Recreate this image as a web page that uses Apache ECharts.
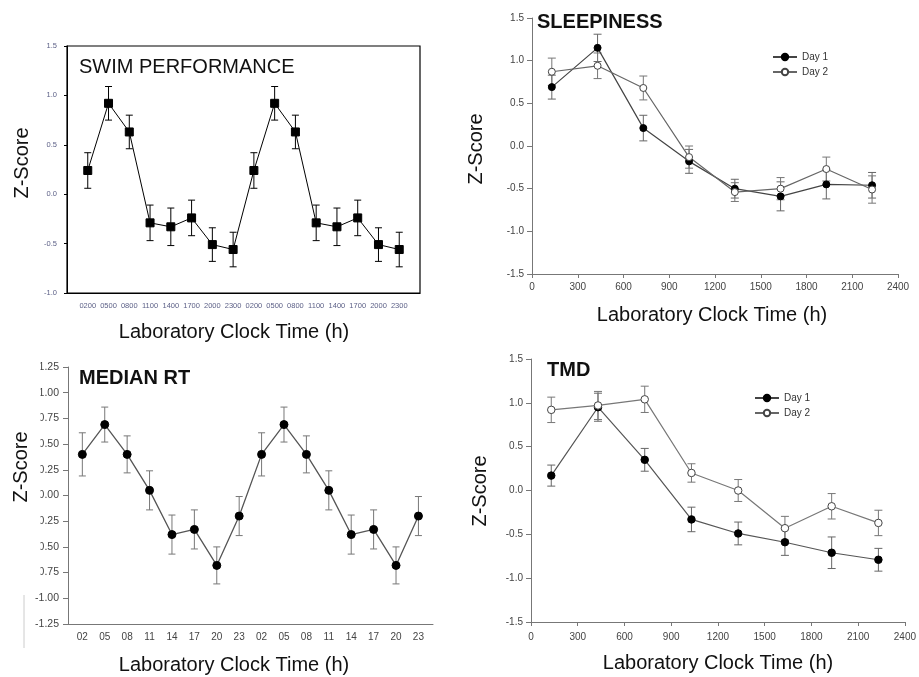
<!DOCTYPE html>
<html>
<head>
<meta charset="utf-8">
<title>Z-Score by laboratory clock time</title>
<script src="https://cdn.jsdelivr.net/npm/echarts@6/dist/echarts.min.js"></script>
<style>
    html, body { margin: 0; padding: 0; background: #fff; }
    #chart { width: 919px; height: 677px; }
</style>
</head>
<body>
<div id="chart"></div>
<script>
// ==============================================================
// data
// ==============================================================
var swimLabels = ['0200', '0500', '0800', '1100', '1400', '1700', '2000', '2300',
                  '0200', '0500', '0800', '1100', '1400', '1700', '2000', '2300'];
var swimMean = [0.24, 0.92, 0.63, -0.29, -0.33, -0.24, -0.51, -0.56,
                0.24, 0.92, 0.63, -0.29, -0.33, -0.24, -0.51, -0.56];
var swimErr = [0.18, 0.17, 0.17, 0.18, 0.19, 0.18, 0.17, 0.175,
               0.18, 0.17, 0.17, 0.18, 0.19, 0.18, 0.17, 0.175];

var clockTimes = [130, 430, 730, 1030, 1330, 1630, 1930, 2230];
var sleepDay1 = [0.69, 1.15, 0.21, -0.18, -0.50, -0.59, -0.45, -0.46];
var sleepDay1Err = [0.14, 0.16, 0.15, 0.14, 0.11, 0.17, 0.17, 0.15];
var sleepDay2 = [0.87, 0.94, 0.68, -0.13, -0.54, -0.50, -0.27, -0.51];
var sleepDay2Err = [0.16, 0.15, 0.14, 0.13, 0.11, 0.13, 0.14, 0.16];

var rtLabels = ['02', '05', '08', '11', '14', '17', '20', '23',
                '02', '05', '08', '11', '14', '17', '20', '23'];
var rtMean = [0.40, 0.69, 0.40, 0.05, -0.38, -0.33, -0.68, -0.20,
              0.40, 0.69, 0.40, 0.05, -0.38, -0.33, -0.68, -0.20];
var rtErr = [0.21, 0.17, 0.18, 0.19, 0.19, 0.19, 0.18, 0.19,
             0.21, 0.17, 0.18, 0.19, 0.19, 0.19, 0.18, 0.19];

var tmdDay1 = [0.17, 0.95, 0.35, -0.33, -0.49, -0.59, -0.71, -0.79];
var tmdDay1Err = [0.12, 0.16, 0.13, 0.14, 0.13, 0.15, 0.18, 0.13];
var tmdDay2 = [0.92, 0.97, 1.04, 0.20, 0.00, -0.43, -0.18, -0.37];
var tmdDay2Err = [0.145, 0.16, 0.15, 0.105, 0.125, 0.135, 0.145, 0.145];

var FONT = 'Liberation Sans, Arial, sans-serif';

// ==============================================================
// helpers
// ==============================================================
function indexes(arr) {
    return arr.map(function (d, i) { return i; });
}
function points(xs, ys) {
    return ys.map(function (y, i) { return [xs[i], y]; });
}
function bars(xs, ys, es) {
    return ys.map(function (y, i) { return [xs[i], y, es[i]]; });
}
// vertical error bar with caps, drawn through the axes
function errorBar(color, cap) {
    return function (params, api) {
        var x = api.value(0), y = api.value(1), e = api.value(2);
        var hi = api.coord([x, y + e]);
        var lo = api.coord([x, y - e]);
        var st = { stroke: color, lineWidth: 1 };
        return {
            type: 'group',
            children: [
                { type: 'line', shape: { x1: hi[0], y1: hi[1], x2: lo[0], y2: lo[1] }, style: st },
                { type: 'line', shape: { x1: hi[0] - cap, y1: hi[1], x2: hi[0] + cap, y2: hi[1] }, style: st },
                { type: 'line', shape: { x1: lo[0] - cap, y1: lo[1], x2: lo[0] + cap, y2: lo[1] }, style: st }
            ]
        };
    };
}
function errSeries(idx, data, color, cap) {
    return {
        type: 'custom', xAxisIndex: idx, yAxisIndex: idx, z: 1,
        renderItem: errorBar(color, cap), encode: { x: 0, y: [1] }, data: data, silent: true
    };
}
function plainAxis(idx, color, tickLen, labelColor, fontSize, margin) {
    return {
        gridIndex: idx, type: 'value',
        axisLine: { show: true, onZero: false, lineStyle: { color: color, width: 1 } },
        axisTick: { show: tickLen > 0, length: tickLen, lineStyle: { color: color } },
        splitLine: { show: false },
        axisLabel: {
            color: labelColor, fontSize: fontSize, fontFamily: FONT, margin: margin,
            formatter: function (v) { return String(v); }
        }
    };
}
function txt(x, y, text, size, weight, rotate, align) {
    return {
        type: 'text', x: x, y: y, z: 60, rotation: rotate ? Math.PI / 2 : 0,
        style: {
            text: text, fill: '#111', fontSize: size, fontWeight: weight, fontFamily: FONT,
            align: align || 'center', verticalAlign: 'middle'
        }
    };
}

var swimIdx = indexes(swimLabels);
var rtIdx = indexes(rtLabels);

// ==============================================================
// axes
// ==============================================================
var xSwim = plainAxis(0, '#000', 0, '#5b5f86', 7.5, 9);
xSwim.min = -1; xSwim.max = 16;
xSwim.axisLabel.customValues = swimIdx;
xSwim.axisLabel.formatter = function (v) { return swimLabels[Math.round(v)]; };

var xSleep = plainAxis(1, '#777', 4, '#444', 10, 8);
xSleep.min = 0; xSleep.max = 2400; xSleep.interval = 300;

var xRt = plainAxis(2, '#777', 0, '#444', 10, 8);
xRt.min = -0.64; xRt.max = 15.65;
xRt.axisLabel.customValues = rtIdx;
xRt.axisLabel.formatter = function (v) { return rtLabels[Math.round(v)]; };

var xTmd = plainAxis(3, '#777', 4, '#444', 10, 10);
xTmd.min = 0; xTmd.max = 2400; xTmd.interval = 300;

var ySwim = plainAxis(0, '#000', 3, '#5b5f86', 7.5, 10);
ySwim.min = -1; ySwim.max = 1.5; ySwim.interval = 0.5;
ySwim.axisLabel.formatter = function (v) { return v.toFixed(1); };

var ySleep = plainAxis(1, '#777', 5, '#444', 10, 8);
ySleep.min = -1.5; ySleep.max = 1.5; ySleep.interval = 0.5;
ySleep.axisLabel.formatter = function (v) { return v.toFixed(1); };

var yRt = plainAxis(2, '#777', 5, '#444', 10.5, 9);
yRt.min = -1.25; yRt.max = 1.25; yRt.interval = 0.25;
yRt.axisLabel.formatter = function (v) { return v.toFixed(2); };

var yTmd = plainAxis(3, '#777', 5, '#444', 10, 8);
yTmd.min = -1.5; yTmd.max = 1.5; yTmd.interval = 0.5;
yTmd.axisLabel.formatter = function (v) { return v.toFixed(1); };

var filled = { color: '#000', borderColor: '#000', borderWidth: 1 };
var open = { color: '#fff', borderColor: '#444', borderWidth: 1 };

var option = {
    animation: false,
    backgroundColor: '#fff',
    textStyle: { fontFamily: FONT },
    grid: [
        { left: 67, top: 46, width: 353, height: 247, show: true, borderColor: '#000', borderWidth: 1.2 },
        { left: 532, top: 18, width: 366, height: 256 },
        { left: 68, top: 367, width: 365, height: 257 },
        { left: 531, top: 359, width: 375, height: 263 }
    ],
    xAxis: [xSwim, xSleep, xRt, xTmd],
    yAxis: [ySwim, ySleep, yRt, yTmd],
    legend: [
        {
            left: 767, top: 47, orient: 'vertical', itemWidth: 24, itemHeight: 8, itemGap: 5,
            data: ['Day 1', 'Day 2'], textStyle: { fontSize: 10, color: '#333', fontFamily: FONT }
        },
        {
            left: 749, top: 388, orient: 'vertical', itemWidth: 24, itemHeight: 8, itemGap: 5,
            data: ['Day 1', 'Day 2'], textStyle: { fontSize: 10, color: '#333', fontFamily: FONT }
        }
    ],
    series: [
        // swim performance
        errSeries(0, bars(swimIdx, swimMean, swimErr), '#000', 3.5),
        {
            name: 'Swim', type: 'line', xAxisIndex: 0, yAxisIndex: 0, z: 3,
            data: points(swimIdx, swimMean), symbol: 'rect', symbolSize: 8,
            itemStyle: filled, lineStyle: { color: '#000', width: 1 }
        },
        // sleepiness
        errSeries(1, bars(clockTimes, sleepDay1, sleepDay1Err), '#666', 4),
        errSeries(1, bars(clockTimes, sleepDay2, sleepDay2Err), '#777', 4),
        {
            name: 'Day 1', type: 'line', xAxisIndex: 1, yAxisIndex: 1, z: 3,
            data: points(clockTimes, sleepDay1), symbol: 'circle', symbolSize: 7,
            itemStyle: filled, lineStyle: { color: '#444', width: 1.2 }
        },
        {
            name: 'Day 2', type: 'line', xAxisIndex: 1, yAxisIndex: 1, z: 3,
            data: points(clockTimes, sleepDay2), symbol: 'circle', symbolSize: 7,
            itemStyle: open, lineStyle: { color: '#666', width: 1.2 }
        },
        // median RT
        errSeries(2, bars(rtIdx, rtMean, rtErr), '#777', 3.5),
        {
            name: 'RT', type: 'line', xAxisIndex: 2, yAxisIndex: 2, z: 3,
            data: points(rtIdx, rtMean), symbol: 'circle', symbolSize: 8,
            itemStyle: filled, lineStyle: { color: '#555', width: 1.3 }
        },
        // TMD
        errSeries(3, bars(clockTimes, tmdDay1, tmdDay1Err), '#666', 4),
        errSeries(3, bars(clockTimes, tmdDay2, tmdDay2Err), '#777', 4),
        {
            name: 'Day 1', type: 'line', xAxisIndex: 3, yAxisIndex: 3, z: 3,
            data: points(clockTimes, tmdDay1), symbol: 'circle', symbolSize: 7.5,
            itemStyle: filled, lineStyle: { color: '#555', width: 1.2 }
        },
        {
            name: 'Day 2', type: 'line', xAxisIndex: 3, yAxisIndex: 3, z: 3,
            data: points(clockTimes, tmdDay2), symbol: 'circle', symbolSize: 7.5,
            itemStyle: open, lineStyle: { color: '#777', width: 1.2 }
        }
    ],
    graphic: {
        elements: [
            // the left edge of the median RT tick labels is cut off in the original
            { type: 'rect', z: 50, shape: { x: 0, y: 355, width: 40.5, height: 233 }, style: { fill: '#fff' } },
            { type: 'line', z: 50, shape: { x1: 24, y1: 595, x2: 24, y2: 648 }, style: { stroke: '#ccc', lineWidth: 1 } },

            txt(79, 67, 'SWIM PERFORMANCE', 20, 'normal', false, 'left'),
            txt(537, 22, 'SLEEPINESS', 20, 'bold', false, 'left'),
            txt(79, 378, 'MEDIAN RT', 20, 'bold', false, 'left'),
            txt(547, 370, 'TMD', 20, 'bold', false, 'left'),

            txt(22, 163, 'Z-Score', 20, 'normal', true),
            txt(476, 149, 'Z-Score', 20, 'normal', true),
            txt(21, 467, 'Z-Score', 20, 'normal', true),
            txt(480, 491, 'Z-Score', 20, 'normal', true),

            txt(234, 332, 'Laboratory Clock Time (h)', 20, 'normal'),
            txt(712, 315, 'Laboratory Clock Time (h)', 20, 'normal'),
            txt(234, 665, 'Laboratory Clock Time (h)', 20, 'normal'),
            txt(718, 663, 'Laboratory Clock Time (h)', 20, 'normal')
        ]
    }
};

var chart = echarts.init(document.getElementById('chart'));
chart.setOption(option);
</script>
</body>
</html>
